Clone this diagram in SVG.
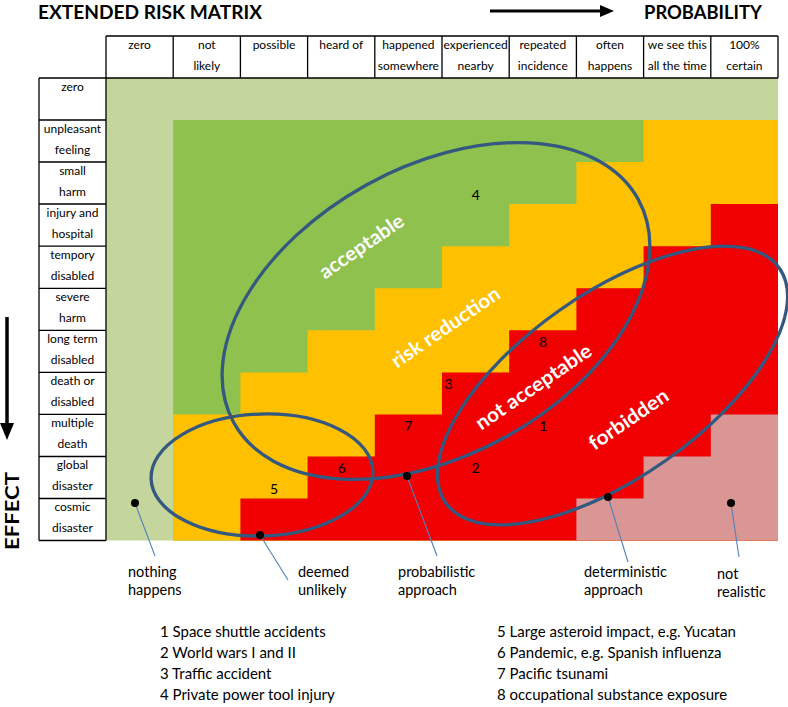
<svg xmlns="http://www.w3.org/2000/svg" width="788" height="707" viewBox="0 0 788 707">
<defs>
<style>
text { font-family: Lato, "Open Sans", "Liberation Sans", sans-serif; fill: #000; }
.ttl { font-weight: bold; font-size: 19px; }
.hdr { font-size: 12px; text-anchor: middle; }
.num { font-size: 14px; text-anchor: middle; }
.zone { font-weight: bold; font-size: 20px; fill: #fff; text-anchor: middle; }
.lbl { font-size: 14.5px; }
.leg { font-size: 15px; }
.grid { stroke: #000; stroke-width: 1.3; fill: none; }
.ell { fill: none; stroke: #34587f; stroke-width: 3.3; }
.lead { stroke: #4f81bd; stroke-width: 1.1; fill: none; }
.dot { fill: #000; }
</style>
</defs>
<rect width="788" height="707" fill="#fff"/>

<g id="titles">
<text class="ttl" x="38" y="18.8" textLength="224" lengthAdjust="spacingAndGlyphs">EXTENDED RISK MATRIX</text>
<text class="ttl" x="644" y="18.8" textLength="118" lengthAdjust="spacingAndGlyphs">PROBABILITY</text>
<line x1="490" y1="11" x2="604" y2="11" stroke="#000" stroke-width="3"/>
<polygon points="600,5 614,11 600,17" fill="#000"/>
<line x1="7" y1="317" x2="7" y2="428" stroke="#000" stroke-width="3.5"/>
<polygon points="0,423 7,440 14,423" fill="#000"/>
<text class="ttl" transform="translate(18.8,550) rotate(-90)" textLength="78" lengthAdjust="spacingAndGlyphs">EFFECT</text>
</g>

<g id="matrix-fill">
<rect x="106" y="78" width="672" height="462.5" fill="#c4d69b"/>
<rect x="173.2" y="120" width="604.8" height="420.5" fill="#8fc14f"/>
<polygon fill="#ffc000" points="643.6,120 778,120 778,540.5 173.2,540.5 173.2,414.4 240.4,414.4 240.4,372.4 307.6,372.4 307.6,330.3 374.8,330.3 374.8,288.3 442,288.3 442,246.2 509.2,246.2 509.2,204 576.4,204 576.4,162 643.6,162"/>
<polygon fill="#f00000" points="710.8,204 778,204 778,540.5 240.4,540.5 240.4,498.5 307.6,498.5 307.6,456.5 374.8,456.5 374.8,414.4 442,414.4 442,372.4 509.2,372.4 509.2,330.3 576.4,330.3 576.4,288.3 643.6,288.3 643.6,246.2 710.8,246.2"/>
<polygon fill="#da9694" points="710.8,414.4 778,414.4 778,540.5 576.4,540.5 576.4,498.5 643.6,498.5 643.6,456.5 710.8,456.5"/>
</g>

<g id="header">
<path class="grid" d="M106,36H778M39,78H778M106,36V540.5M173.2,36V78M240.4,36V78M307.6,36V78M374.8,36V78M442,36V78M509.2,36V78M576.4,36V78M643.6,36V78M710.8,36V78M778,36V78"/>
<text class="hdr" x="139.6" y="49">zero</text>
<text class="hdr" x="206.8" y="49">not</text><text class="hdr" x="206.8" y="70">likely</text>
<text class="hdr" x="274" y="49">possible</text>
<text class="hdr" x="341.2" y="49">heard of</text>
<text class="hdr" x="408.4" y="49">happened</text><text class="hdr" x="408.4" y="70">somewhere</text>
<text class="hdr" x="475.6" y="49">experienced</text><text class="hdr" x="475.6" y="70">nearby</text>
<text class="hdr" x="542.8" y="49">repeated</text><text class="hdr" x="542.8" y="70">incidence</text>
<text class="hdr" x="610" y="49">often</text><text class="hdr" x="610" y="70">happens</text>
<text class="hdr" x="677.2" y="49">we see this</text><text class="hdr" x="677.2" y="70">all the time</text>
<text class="hdr" x="744.4" y="49">100%</text><text class="hdr" x="744.4" y="70">certain</text>
</g>

<g id="row-labels">
<path class="grid" d="M39,78V540.5M39,120H106M39,162H106M39,204H106M39,246.2H106M39,288.3H106M39,330.3H106M39,372.4H106M39,414.4H106M39,456.5H106M39,498.5H106M39,540.5H106"/>
<text class="hdr" x="72.5" y="91">zero</text>
<text class="hdr" x="72.5" y="132.5">unpleasant</text><text class="hdr" x="72.5" y="153.5">feeling</text>
<text class="hdr" x="72.5" y="174.5">small</text><text class="hdr" x="72.5" y="195.5">harm</text>
<text class="hdr" x="72.5" y="216.5">injury and</text><text class="hdr" x="72.5" y="237.5">hospital</text>
<text class="hdr" x="72.5" y="258.7">tempory</text><text class="hdr" x="72.5" y="279.7">disabled</text>
<text class="hdr" x="72.5" y="300.8">severe</text><text class="hdr" x="72.5" y="321.8">harm</text>
<text class="hdr" x="72.5" y="342.8">long term</text><text class="hdr" x="72.5" y="363.8">disabled</text>
<text class="hdr" x="72.5" y="384.9">death or</text><text class="hdr" x="72.5" y="405.9">disabled</text>
<text class="hdr" x="72.5" y="426.9">multiple</text><text class="hdr" x="72.5" y="447.9">death</text>
<text class="hdr" x="72.5" y="469">global</text><text class="hdr" x="72.5" y="490">disaster</text>
<text class="hdr" x="72.5" y="511">cosmic</text><text class="hdr" x="72.5" y="532">disaster</text>
</g>

<g id="numbers">
<text class="num" x="475.7" y="200">4</text>
<text class="num" x="543" y="347">8</text>
<text class="num" x="448.5" y="389">3</text>
<text class="num" x="408.3" y="431">7</text>
<text class="num" x="543.3" y="431">1</text>
<text class="num" x="341.7" y="473.3">6</text>
<text class="num" x="475.5" y="473.3">2</text>
<text class="num" x="274" y="494.3">5</text>
</g>

<g id="zone-acceptable">
<ellipse class="ell" cx="436" cy="311" rx="231" ry="144" transform="rotate(-28.9 436 311)"/>
<text class="zone" transform="translate(362,247) rotate(-34.5)" y="6" textLength="98" lengthAdjust="spacingAndGlyphs">acceptable</text>
<text class="zone" transform="translate(446,328) rotate(-34.3)" y="6" textLength="127" lengthAdjust="spacingAndGlyphs">risk reduction</text>
</g>
<g id="zone-forbidden">
<ellipse class="ell" cx="612.5" cy="385.5" rx="204" ry="92" transform="rotate(-35.1 612.5 385.5)"/>
<text class="zone" transform="translate(534,387.5) rotate(-34.3)" y="6" textLength="136" lengthAdjust="spacingAndGlyphs">not acceptable</text>
<text class="zone" transform="translate(629,420) rotate(-34.3)" y="6" textLength="92" lengthAdjust="spacingAndGlyphs">forbidden</text>
</g>
<g id="zone-unlikely">
<ellipse class="ell" cx="262" cy="475" rx="111" ry="61" transform="rotate(-2 262 475)"/>
</g>

<g id="connectors">
<line class="lead" x1="135" y1="503" x2="155" y2="556"/>
<line class="lead" x1="260" y1="535" x2="288" y2="580"/>
<line class="lead" x1="407" y1="476" x2="437" y2="556"/>
<line class="lead" x1="608" y1="497" x2="628" y2="562"/>
<line class="lead" x1="731" y1="503" x2="739" y2="557"/>
<circle class="dot" cx="135" cy="503" r="4"/>
<circle class="dot" cx="260" cy="535" r="4"/>
<circle class="dot" cx="407" cy="476" r="4"/>
<circle class="dot" cx="608" cy="497" r="4"/>
<circle class="dot" cx="731" cy="503" r="4"/>
</g>

<g id="annotations">
<text class="lbl" x="128" y="577">nothing</text><text class="lbl" x="128" y="595">happens</text>
<text class="lbl" x="298" y="577">deemed</text><text class="lbl" x="298" y="595">unlikely</text>
<text class="lbl" x="398" y="577">probabilistic</text><text class="lbl" x="398" y="595">approach</text>
<text class="lbl" x="584" y="577">deterministic</text><text class="lbl" x="584" y="595">approach</text>
<text class="lbl" x="717" y="579">not</text><text class="lbl" x="717" y="597">realistic</text>
</g>

<g id="legend">
<text class="leg" x="160" y="637">1 Space shuttle accidents</text>
<text class="leg" x="160" y="658">2 World wars I and II</text>
<text class="leg" x="160" y="679">3 Traffic accident</text>
<text class="leg" x="160" y="700">4 Private power tool injury</text>
<text class="leg" x="497" y="637">5 Large asteroid impact, e.g. Yucatan</text>
<text class="leg" x="497" y="658">6 Pandemic, e.g. Spanish influenza</text>
<text class="leg" x="497" y="679">7 Pacific tsunami</text>
<text class="leg" x="497" y="700">8 occupational substance exposure</text>
</g>
</svg>
